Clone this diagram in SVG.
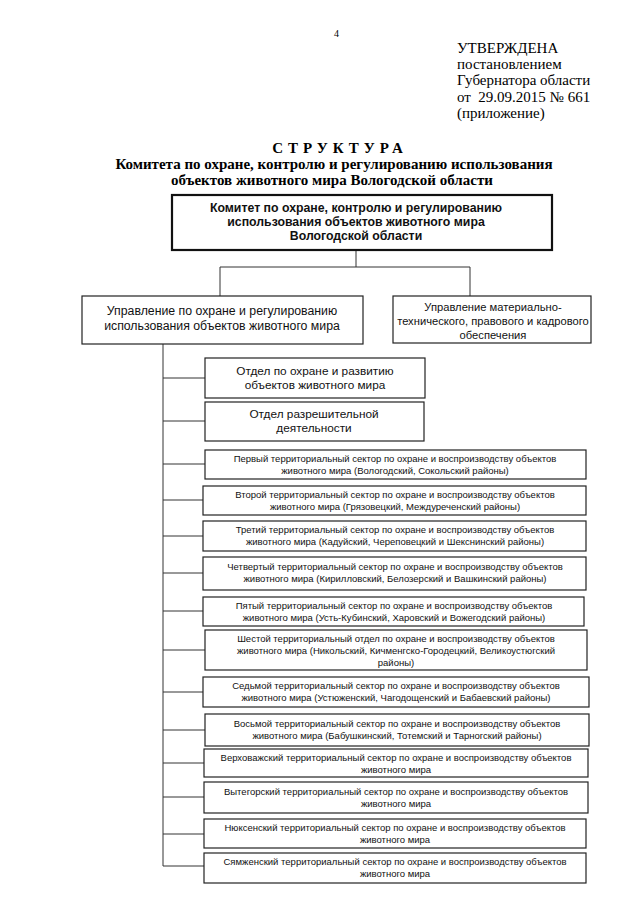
<svg xmlns="http://www.w3.org/2000/svg" width="640" height="905" viewBox="0 0 640 905">
<style>
.serif{font-family:"Liberation Serif","Times New Roman",serif;fill:#000}
.hdr{font-size:15px}
.ttl{font-size:15px;font-weight:bold;text-anchor:middle}
.box{fill:#fff;stroke:#222;stroke-width:1.2}
.boxb{fill:#fff;stroke:#111;stroke-width:2.2}
.t{font-family:"Liberation Sans",Arial,sans-serif;fill:#111;text-anchor:middle}
.tb{font-size:12.3px;font-weight:bold}
.tm{font-size:12.3px}
.tr{font-size:11.2px}
.to{font-size:11.8px}
.ts{font-size:9.5px}
.ln{fill:none;stroke:#333;stroke-width:1}
</style>
<rect width="640" height="905" fill="#fff"/>
<text class="serif" x="334" y="37" font-size="10">4</text>
<g class="serif hdr">
<text x="457" y="53">УТВЕРЖДЕНА</text>
<text x="457" y="69">постановлением</text>
<text x="457" y="85">Губернатора области</text>
<text x="457" y="102" xml:space="preserve">от  29.09.2015 № 661</text>
<text x="457" y="118">(приложение)</text>
</g>
<text class="serif ttl" x="340" y="153" letter-spacing="5">СТРУКТУРА</text>
<text class="serif ttl" x="334" y="169">Комитета по охране, контролю и регулированию использования</text>
<text class="serif ttl" x="332" y="185">объектов животного мира Вологодской области</text>

<g id="connectors" class="ln">
<path d="M356 250V267M220 267H470M220 267V296M470 267V296"/>
<path d="M163 344V866H204"/>
<path d="M163 378H205M163 421H205M163 464H205M163 500H203M163 536H203M163 573H203M163 611H203M163 650H205M163 692H203M163 730H205M163 763H204M163 797H204M163 834H204"/>
</g>

<g id="n0"><rect class="boxb" x="172" y="195" width="380" height="55"/>
<text class="t tb" x="356" y="212">Комитет по охране, контролю и регулированию</text>
<text class="t tb" x="356" y="226">использования объектов животного мира</text>
<text class="t tb" x="356" y="240">Вологодской области</text></g>

<g id="n1"><rect class="box" x="82" y="296" width="281" height="48" stroke-width="1.6"/>
<text class="t tm" x="222" y="315">Управление по охране и регулированию</text>
<text class="t tm" x="222" y="330">использования объектов животного мира</text></g>

<g id="n2"><rect class="box" x="393" y="296" width="198" height="47" stroke-width="1.6"/>
<text class="t tr" x="493" y="311">Управление материально-</text>
<text class="t tr" x="493" y="325">технического, правового и кадрового</text>
<text class="t tr" x="493" y="339">обеспечения</text></g>

<g id="n3"><rect class="box" x="205" y="358" width="220" height="40"/>
<text class="t to" x="315" y="375">Отдел по охране и развитию</text>
<text class="t to" x="315" y="389">объектов животного мира</text></g>

<g id="n4"><rect class="box" x="205" y="402" width="219" height="39"/>
<text class="t to" x="314" y="418">Отдел разрешительной</text>
<text class="t to" x="314" y="432">деятельности</text></g>

<g id="n5"><rect class="box" x="205" y="450" width="381" height="29"/>
<text class="t ts" x="395" y="462">Первый территориальный сектор по охране и воспроизводству объектов</text>
<text class="t ts" x="395" y="474">животного мира (Вологодский, Сокольский районы)</text></g>

<g id="n6"><rect class="box" x="203" y="486" width="383" height="29"/>
<text class="t ts" x="395" y="498">Второй территориальный сектор по охране и воспроизводству объектов</text>
<text class="t ts" x="395" y="510">животного мира (Грязовецкий, Междуреченский районы)</text></g>

<g id="n7"><rect class="box" x="203" y="521" width="383" height="30"/>
<text class="t ts" x="395" y="533">Третий территориальный сектор по охране и воспроизводству объектов</text>
<text class="t ts" x="395" y="545">животного мира (Кадуйский, Череповецкий и Шекснинский районы)</text></g>

<g id="n8"><rect class="box" x="203" y="557" width="383" height="33"/>
<text class="t ts" x="395" y="570">Четвертый территориальный сектор по охране и воспроизводству объектов</text>
<text class="t ts" x="395" y="582">животного мира (Кирилловский, Белозерский и Вашкинский районы)</text></g>

<g id="n9"><rect class="box" x="203" y="597" width="381" height="29"/>
<text class="t ts" x="394" y="609">Пятый территориальный сектор по охране и воспроизводству объектов</text>
<text class="t ts" x="394" y="621">животного мира (Усть-Кубинский, Харовский и Вожегодский районы)</text></g>

<g id="n10"><rect class="box" x="205" y="630" width="382" height="40"/>
<text class="t ts" x="396" y="642">Шестой территориальный отдел по охране и воспроизводству объектов</text>
<text class="t ts" x="396" y="654">животного мира (Никольский, Кичменгско-Городецкий, Великоустюгский</text>
<text class="t ts" x="396" y="666">районы)</text></g>

<g id="n11"><rect class="box" x="203" y="677" width="386" height="30"/>
<text class="t ts" x="396" y="689">Седьмой территориальный сектор по охране и воспроизводству объектов</text>
<text class="t ts" x="396" y="701">животного мира (Устюженский, Чагодощенский и Бабаевский районы)</text></g>

<g id="n12"><rect class="box" x="205" y="714" width="384" height="32"/>
<text class="t ts" x="397" y="727">Восьмой территориальный сектор по охране и воспроизводству объектов</text>
<text class="t ts" x="397" y="739">животного мира (Бабушкинский, Тотемский и Тарногский районы)</text></g>

<g id="n13"><rect class="box" x="204" y="749" width="384" height="28"/>
<text class="t ts" x="396" y="761">Верховажский территориальный сектор по охране и воспроизводству объектов</text>
<text class="t ts" x="396" y="773">животного мира</text></g>

<g id="n14"><rect class="box" x="204" y="782" width="384" height="31"/>
<text class="t ts" x="396" y="795">Вытегорский территориальный сектор по охране и воспроизводству объектов</text>
<text class="t ts" x="396" y="807">животного мира</text></g>

<g id="n15"><rect class="box" x="204" y="819" width="382" height="29"/>
<text class="t ts" x="395" y="831">Нюксенский территориальный сектор по охране и воспроизводству объектов</text>
<text class="t ts" x="395" y="843">животного мира</text></g>

<g id="n16"><rect class="box" x="204" y="853" width="382" height="30"/>
<text class="t ts" x="395" y="865">Сямженский территориальный сектор по охране и воспроизводству объектов</text>
<text class="t ts" x="395" y="877">животного мира</text></g>
</svg>
